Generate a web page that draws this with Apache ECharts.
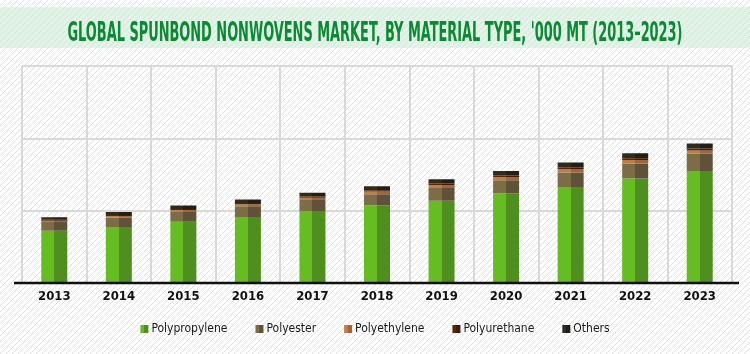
<!DOCTYPE html>
<html>
<head>
<meta charset="utf-8">
<script src="https://cdn.jsdelivr.net/npm/echarts@6/dist/echarts.min.js"></script>
<style>
  html, body { margin: 0; padding: 0; background: #fff; }
  #chart { width: 750px; height: 354px; }
</style>
</head>
<body>
<div id="chart"></div>
<script>
// years on the x axis
var years = ["2013", "2014", "2015", "2016", "2017", "2018", "2019", "2020", "2021", "2022", "2023"];

// '000 MT
var polypropylene = [3610, 3870, 4240, 4560, 4980, 5370, 5690, 6200, 6630, 7230, 7740];
var polyester = [600, 635, 665, 740, 750, 770, 885, 910, 1015, 1025, 1195];
var polyethylene = [100, 125, 140, 150, 165, 180, 195, 210, 230, 240, 225];
var polyurethane = [70, 70, 75, 80, 90, 95, 105, 110, 115, 120, 135];
var others = [170, 210, 230, 250, 260, 280, 300, 310, 340, 350, 350];

var yTicks = [0, 5000, 10000, 15000];

var titleText = "GLOBAL SPUNBOND NONWOVENS MARKET, BY MATERIAL TYPE, '000 MT (2013\u20132023)";
var font = "'DejaVu Sans Condensed', Roboto, sans-serif";
var titleFont = "bold 26px " + font;

// striped backgrounds
function stripes(bg, line, size) {
  var c = document.createElement("canvas");
  c.width = size;
  c.height = size;
  var ctx = c.getContext("2d");
  ctx.fillStyle = bg;
  ctx.fillRect(0, 0, size, size);
  ctx.strokeStyle = line;
  ctx.lineWidth = 1;
  ctx.beginPath();
  ctx.moveTo(0, size); ctx.lineTo(size, 0);
  ctx.moveTo(-1, 1); ctx.lineTo(1, -1);
  ctx.moveTo(size - 1, size + 1); ctx.lineTo(size + 1, size - 1);
  ctx.stroke();
  return c;
}

// squeeze the title into the width it has in the original
function titleScale() {
  var ctx = document.createElement("canvas").getContext("2d");
  ctx.font = titleFont;
  return 615 / ctx.measureText(titleText).width;
}

// two tone bar (light left half, dark right half)
function twoTone(light, dark) {
  return new echarts.graphic.LinearGradient(0, 0, 1, 0, [
    { offset: 0, color: light },
    { offset: 0.5, color: light },
    { offset: 0.5, color: dark },
    { offset: 1, color: dark }
  ]);
}

var myChart = echarts.init(document.getElementById("chart"));

function makeSeries(name, data, light, dark) {
  return {
    name: name,
    type: "bar",
    stack: "total",
    barWidth: 26,
    data: data,
    itemStyle: { color: twoTone(light, dark) },
    emphasis: { disabled: true }
  };
}

myChart.setOption({
  animation: false,
  color: ["#6cc52a", "#7d6e4a", "#b06b3e", "#4b1c04", "#2f2b22"],
  graphic: {
    elements: [
      {
        id: "bg", type: "rect", z: -10, silent: true,
        shape: { x: 0, y: 0, width: 750, height: 354 },
        style: { fill: { image: stripes("#ffffff", "#dedede", 6), repeat: "repeat" } }
      },
      {
        id: "band", type: "rect", z: -9, silent: true,
        shape: { x: 0, y: 7, width: 750, height: 41 },
        style: { fill: { image: stripes("#e2f3e7", "#cfe8d6", 6), repeat: "repeat" } }
      },
      {
        id: "title", type: "text", z: 10, silent: true,
        x: 375, y: 34, scaleX: titleScale(),
        style: {
          text: titleText,
          font: titleFont,
          fill: "#0a8a32",
          align: "center",
          verticalAlign: "middle"
        }
      }
    ]
  },
  legend: {
    bottom: 14,
    left: "center",
    itemWidth: 8,
    itemHeight: 8,
    itemGap: 28,
    icon: "rect",
    textStyle: { fontFamily: font, fontSize: 12, color: "#1a1a1a", padding: [0, 0, 0, -2] },
    data: ["Polypropylene", "Polyester", "Polyethylene", "Polyurethane", "Others"]
  },
  grid: { left: 22, right: 18, top: 66, bottom: 71 },
  xAxis: {
    type: "category",
    data: years,
    axisLine: { show: false },
    axisTick: { show: false },
    axisLabel: {
      fontFamily: font, fontWeight: "bold", fontSize: 13, color: "#111", margin: 7
    },
    splitLine: { show: true, lineStyle: { color: "#d9d9d9", width: 2 } }
  },
  yAxis: {
    type: "value",
    min: yTicks[0],
    max: yTicks[yTicks.length - 1],
    interval: yTicks[1] - yTicks[0],
    axisLabel: { show: false },
    axisLine: { show: false },
    axisTick: { show: false },
    splitLine: { lineStyle: { color: "#d9d9d9", width: 2 } }
  },
  series: [
    makeSeries("Polypropylene", polypropylene, "#66bd22", "#4f8f1f"),
    makeSeries("Polyester", polyester, "#7d6c47", "#5f5239"),
    makeSeries("Polyethylene", polyethylene, "#c27d46", "#a66537"),
    makeSeries("Polyurethane", polyurethane, "#5a260a", "#431b06"),
    makeSeries("Others", others, "#302b1f", "#221f17")
  ]
});

// thick black base line, a bit wider than the grid
var baseY = myChart.convertToPixel({ yAxisIndex: 0 }, 0);
myChart.setOption({
  graphic: {
    elements: [
      {
        id: "base", type: "line", z: 20, silent: true,
        shape: { x1: 14, y1: baseY, x2: 739, y2: baseY },
        style: { stroke: "#111", lineWidth: 2.5 }
      }
    ]
  }
});
</script>
</body>
</html>
